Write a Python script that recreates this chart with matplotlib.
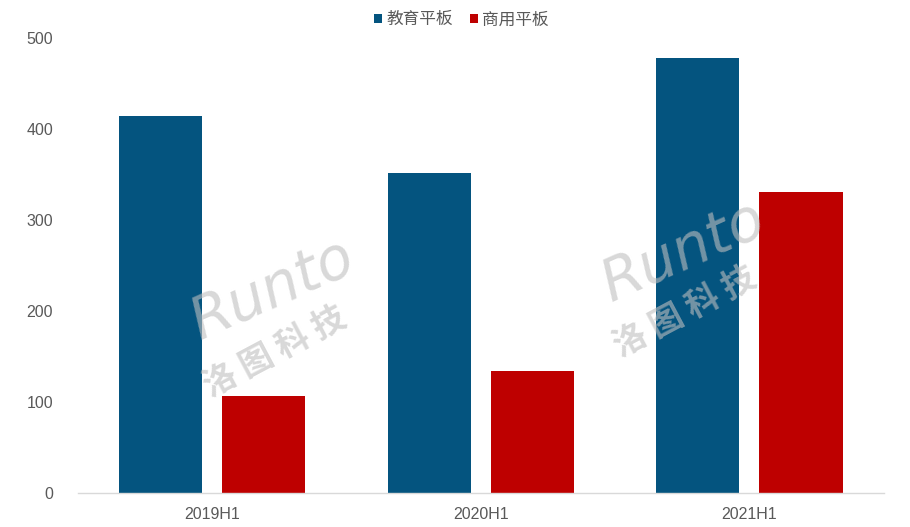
import matplotlib
matplotlib.use("Agg")
import matplotlib.pyplot as plt
import numpy as np

categories = ["2019H1", "2020H1", "2021H1"]
edu_values = [414, 352, 478]
biz_values = [107, 134, 331]
series_names = ["教育平板", "商用平板"]
yticks = [0, 100, 200, 300, 400, 500]

plt.rcParams['font.family'] = ['Liberation Sans', 'Noto Sans CJK SC', 'DejaVu Sans']

fig = plt.figure(figsize=(9.10, 5.27), dpi=100)
ax = fig.add_axes([0.0857, 0.0645, 0.8853, 0.8635])

x = np.arange(len(categories))
w = 0.31
off = 0.192
ax.bar(x - off, edu_values, w, color="#04547F", label=series_names[0], zorder=2)
ax.bar(x + off, biz_values, w, color="#BE0000", label=series_names[1], zorder=2)

ax.set_xlim(-0.5, 2.5)
ax.set_ylim(0, 500)
ax.set_yticks(yticks)
ax.set_xticks(x)
ax.set_xticklabels(categories)
ax.tick_params(axis='both', length=0, labelsize=11.5, colors="#595959")
ax.tick_params(axis='y', pad=18)
ax.tick_params(axis='x', pad=10)
for s in ["top", "right", "left"]:
    ax.spines[s].set_visible(False)
ax.spines["bottom"].set_color("#D9D9D9")
ax.spines["bottom"].set_linewidth(1)

leg = fig.legend(loc="upper center", bbox_to_anchor=(0.507, 1.007), ncol=2, frameon=False,
                 handlelength=0.5, handleheight=0.5, handletextpad=0.25,
                 columnspacing=1.0, prop={'family': ['Noto Sans CJK SC', 'DejaVu Sans'], 'size': 12})
for t in leg.get_texts():
    t.set_color("#595959")

# watermarks
for (rx, ry), (cx, cy) in [((272, 290), (275, 352)), ((683, 252), (685, 312))]:
    fig.text(rx / 910, 1 - ry / 527, "Runto", fontsize=42, color="#BFBFBF", alpha=0.6,
             rotation=24, ha="center", va="center", family="DejaVu Sans", style="italic", zorder=5)
    fig.text(cx / 910, 1 - cy / 527, "洛 图 科 技", fontsize=24, color="#BFBFBF", alpha=0.6,
             rotation=28, ha="center", va="center", family="Noto Sans CJK SC", weight="bold", zorder=5)

fig.savefig("out.png", dpi=100)
